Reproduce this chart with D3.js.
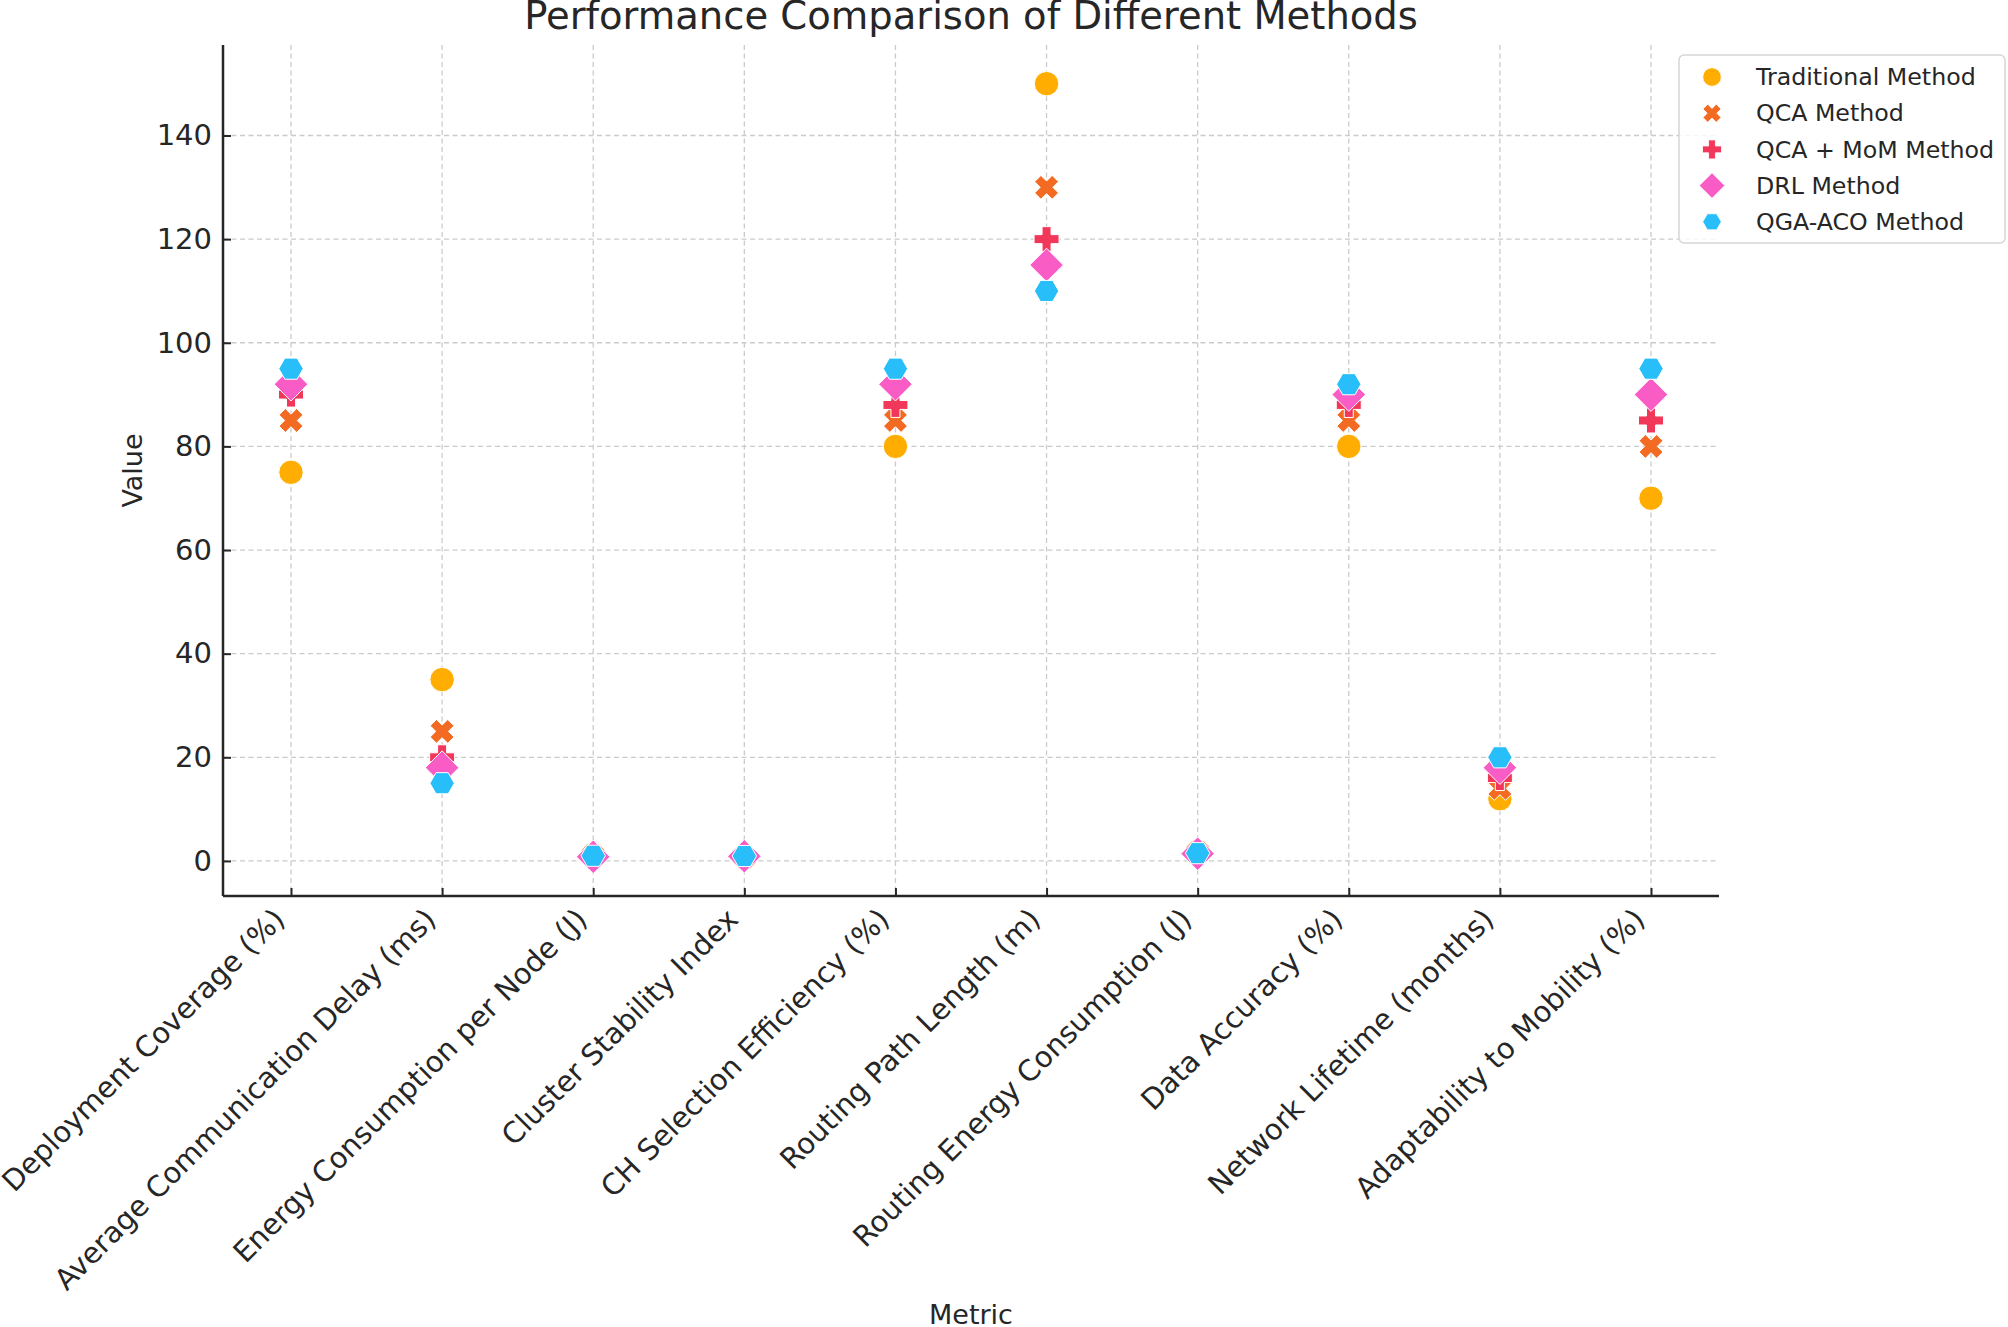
<!DOCTYPE html>
<html>
<head>
<meta charset="utf-8">
<script src="https://cdn.jsdelivr.net/npm/d3@7"></script>
<style>
	body { margin: 0; background: #fff; }
	svg text { font-family: "DejaVu Sans", sans-serif; fill: #262626; }
</style>
</head>
<body>
<svg id="chart" width="2008" height="1327"></svg>
<script>
var metrics = [
	"Deployment Coverage (%)",
	"Average Communication Delay (ms)",
	"Energy Consumption per Node (J)",
	"Cluster Stability Index",
	"CH Selection Efficiency (%)",
	"Routing Path Length (m)",
	"Routing Energy Consumption (J)",
	"Data Accuracy (%)",
	"Network Lifetime (months)",
	"Adaptability to Mobility (%)"
];

var traditional = [75, 35, 1.2, 0.7, 80, 150, 1.8, 80, 12, 70];
var qca = [85, 25, 1.0, 0.8, 85, 130, 1.6, 85, 14, 80];
var qcaMom = [90, 20, 0.9, 0.85, 88, 120, 1.5, 88, 16, 85];
var drl = [92, 18, 0.8, 0.9, 92, 115, 1.4, 90, 18, 90];
var qgaAco = [95, 15, 1.0, 0.95, 95, 110, 1.5, 92, 20, 95];

var yTicks = [0, 20, 40, 60, 80, 100, 120, 140];

var seriesNames = ["Traditional Method", "QCA Method", "QCA + MoM Method", "DRL Method", "QGA-ACO Method"];
var seriesValues = [traditional, qca, qcaMom, drl, qgaAco];
var seriesColors = ["#ffad00", "#f36b23", "#f2385a", "#f95cc5", "#27bef9"];
var seriesShapes = ["circle", "x", "plus", "diamond", "hexagon"];

var margin = {left: 223, right: 2008 - 1719, top: 45, bottom: 1327 - 896};
var width = 2008 - margin.left - margin.right;
var height = 1327 - margin.top - margin.bottom;

var svg = d3.select("#chart");
var g = svg.append("g").attr("transform", "translate(" + margin.left + "," + margin.top + ")");

// matplotlib style 5% padding on both axes
var x = d3.scaleLinear()
	.domain([-0.45, metrics.length - 1 + 0.45])
	.range([0, width]);

var allValues = d3.merge(seriesValues);
var yMin = d3.min(allValues), yMax = d3.max(allValues);
var pad = (yMax - yMin) * 0.05;
var y = d3.scaleLinear()
	.domain([yMin - pad, yMax + pad])
	.range([height, 0]);

// marker path generator, k = scale factor
var shapePath = function(shape, k) {
	var pts, i, a;
	if (shape === "circle") {
		var r = 12.2 * k;
		return "M" + r + ",0A" + r + "," + r + " 0 1,1 " + (-r) + ",0A" + r + "," + r + " 0 1,1 " + r + ",0Z";
	}
	if (shape === "plus" || shape === "x") {
		var h = (shape === "plus" ? 12.5 : 12.4) * k;
		var w = h * 0.36;
		pts = [[-w, -h], [w, -h], [w, -w], [h, -w], [h, w], [w, w], [w, h], [-w, h], [-w, w], [-h, w], [-h, -w], [-w, -w]];
		if (shape === "x") {
			pts = pts.map(function(p) {
				return [(p[0] - p[1]) * Math.SQRT1_2, (p[0] + p[1]) * Math.SQRT1_2];
			});
		}
		return "M" + pts.join("L") + "Z";
	}
	if (shape === "diamond") {
		var d = 16.8 * k;
		return "M0," + (-d) + "L" + d + ",0L0," + d + "L" + (-d) + ",0Z";
	}
	// flat topped hexagon
	pts = [];
	for (i = 0; i < 6; i++) {
		a = i * Math.PI / 3;
		pts.push([12.2 * k * Math.cos(a), 12.2 * k * Math.sin(a)]);
	}
	return "M" + pts.join("L") + "Z";
};

// grid
var grid = g.append("g").attr("class", "grid");
grid.selectAll("line.hgrid")
	.data(yTicks)
	.enter().append("line")
	.attr("class", "hgrid")
	.attr("x1", 0).attr("x2", width)
	.attr("y1", function(d) { return y(d); })
	.attr("y2", function(d) { return y(d); });
grid.selectAll("line.vgrid")
	.data(metrics)
	.enter().append("line")
	.attr("class", "vgrid")
	.attr("y1", 0).attr("y2", height)
	.attr("x1", function(d, i) { return x(i); })
	.attr("x2", function(d, i) { return x(i); });
grid.selectAll("line")
	.attr("stroke", "#cbcbcb")
	.attr("stroke-width", 1.3)
	.attr("stroke-dasharray", "5,3.5");

// axes with inward ticks
var yAxis = d3.axisLeft(y).tickValues(yTicks).tickSizeInner(-8).tickSizeOuter(0).tickPadding(11);
var yg = g.append("g").call(yAxis);
yg.select(".domain").attr("stroke", "#262626").attr("stroke-width", 2.5)
	.attr("d", "M0," + height + "V0");
yg.selectAll(".tick line").attr("stroke", "#262626").attr("stroke-width", 2);
yg.selectAll(".tick text")
	.attr("font-size", "29px")
	.attr("font-family", "DejaVu Sans")
	.attr("fill", "#262626");

var xAxis = d3.axisBottom(x)
	.tickValues(d3.range(metrics.length))
	.tickFormat(function(d) { return metrics[d]; })
	.tickSizeInner(-8).tickSizeOuter(0);
var xg = g.append("g").attr("transform", "translate(0," + height + ")").call(xAxis);
xg.select(".domain").attr("stroke", "#262626").attr("stroke-width", 2.5)
	.attr("d", "M0,0H" + width);
xg.selectAll(".tick line").attr("stroke", "#262626").attr("stroke-width", 2);
xg.selectAll(".tick text")
	.attr("font-size", "29px")
	.attr("font-family", "DejaVu Sans")
	.attr("fill", "#262626")
	.attr("text-anchor", "end")
	.attr("y", 0).attr("dy", 0)
	.attr("transform", "translate(-5,25) rotate(-45)");

// markers, drawn series by series so later ones sit on top
var series = g.selectAll("g.series")
	.data(seriesValues)
	.enter().append("g")
	.attr("class", "series");

series.selectAll("path")
	.data(function(vals, si) {
		return vals.map(function(v, i) { return {i: i, v: v, s: si}; });
	})
	.enter().append("path")
	.attr("d", function(d) { return shapePath(seriesShapes[d.s], 1); })
	.attr("transform", function(d) { return "translate(" + x(d.i) + "," + y(d.v) + ")"; })
	.attr("fill", function(d) { return seriesColors[d.s]; })
	.attr("stroke", "#fff")
	.attr("stroke-width", 1);

// title and axis labels
svg.append("text")
	.attr("x", margin.left + width / 2)
	.attr("y", 29)
	.attr("text-anchor", "middle")
	.attr("font-size", "38.5px")
	.text("Performance Comparison of Different Methods");

svg.append("text")
	.attr("x", margin.left + width / 2)
	.attr("y", 1324)
	.attr("text-anchor", "middle")
	.attr("font-size", "27px")
	.text("Metric");

svg.append("text")
	.attr("transform", "translate(132," + (margin.top + height / 2) + ") rotate(-90)")
	.attr("text-anchor", "middle")
	.attr("dominant-baseline", "central")
	.attr("font-size", "27px")
	.text("Value");

// legend
var legend = svg.append("g").attr("transform", "translate(1679,55)");
legend.append("rect")
	.attr("width", 326).attr("height", 188)
	.attr("rx", 5).attr("ry", 5)
	.attr("fill", "#fff").attr("fill-opacity", 0.8)
	.attr("stroke", "#d6d6d6").attr("stroke-width", 1.5);

var items = legend.selectAll("g.item")
	.data(seriesNames)
	.enter().append("g")
	.attr("class", "item")
	.attr("transform", function(d, i) { return "translate(0," + (22 + i * 36.2) + ")"; });

items.append("path")
	.attr("d", function(d, i) { return shapePath(seriesShapes[i], 0.76); })
	.attr("transform", "translate(33,0)")
	.attr("fill", function(d, i) { return seriesColors[i]; })
	.attr("stroke", "#fff")
	.attr("stroke-width", 0.8);

items.append("text")
	.attr("x", 77)
	.attr("dy", "0.35em")
	.attr("font-size", "23.7px")
	.text(function(d) { return d; });
</script>
</body>
</html>
